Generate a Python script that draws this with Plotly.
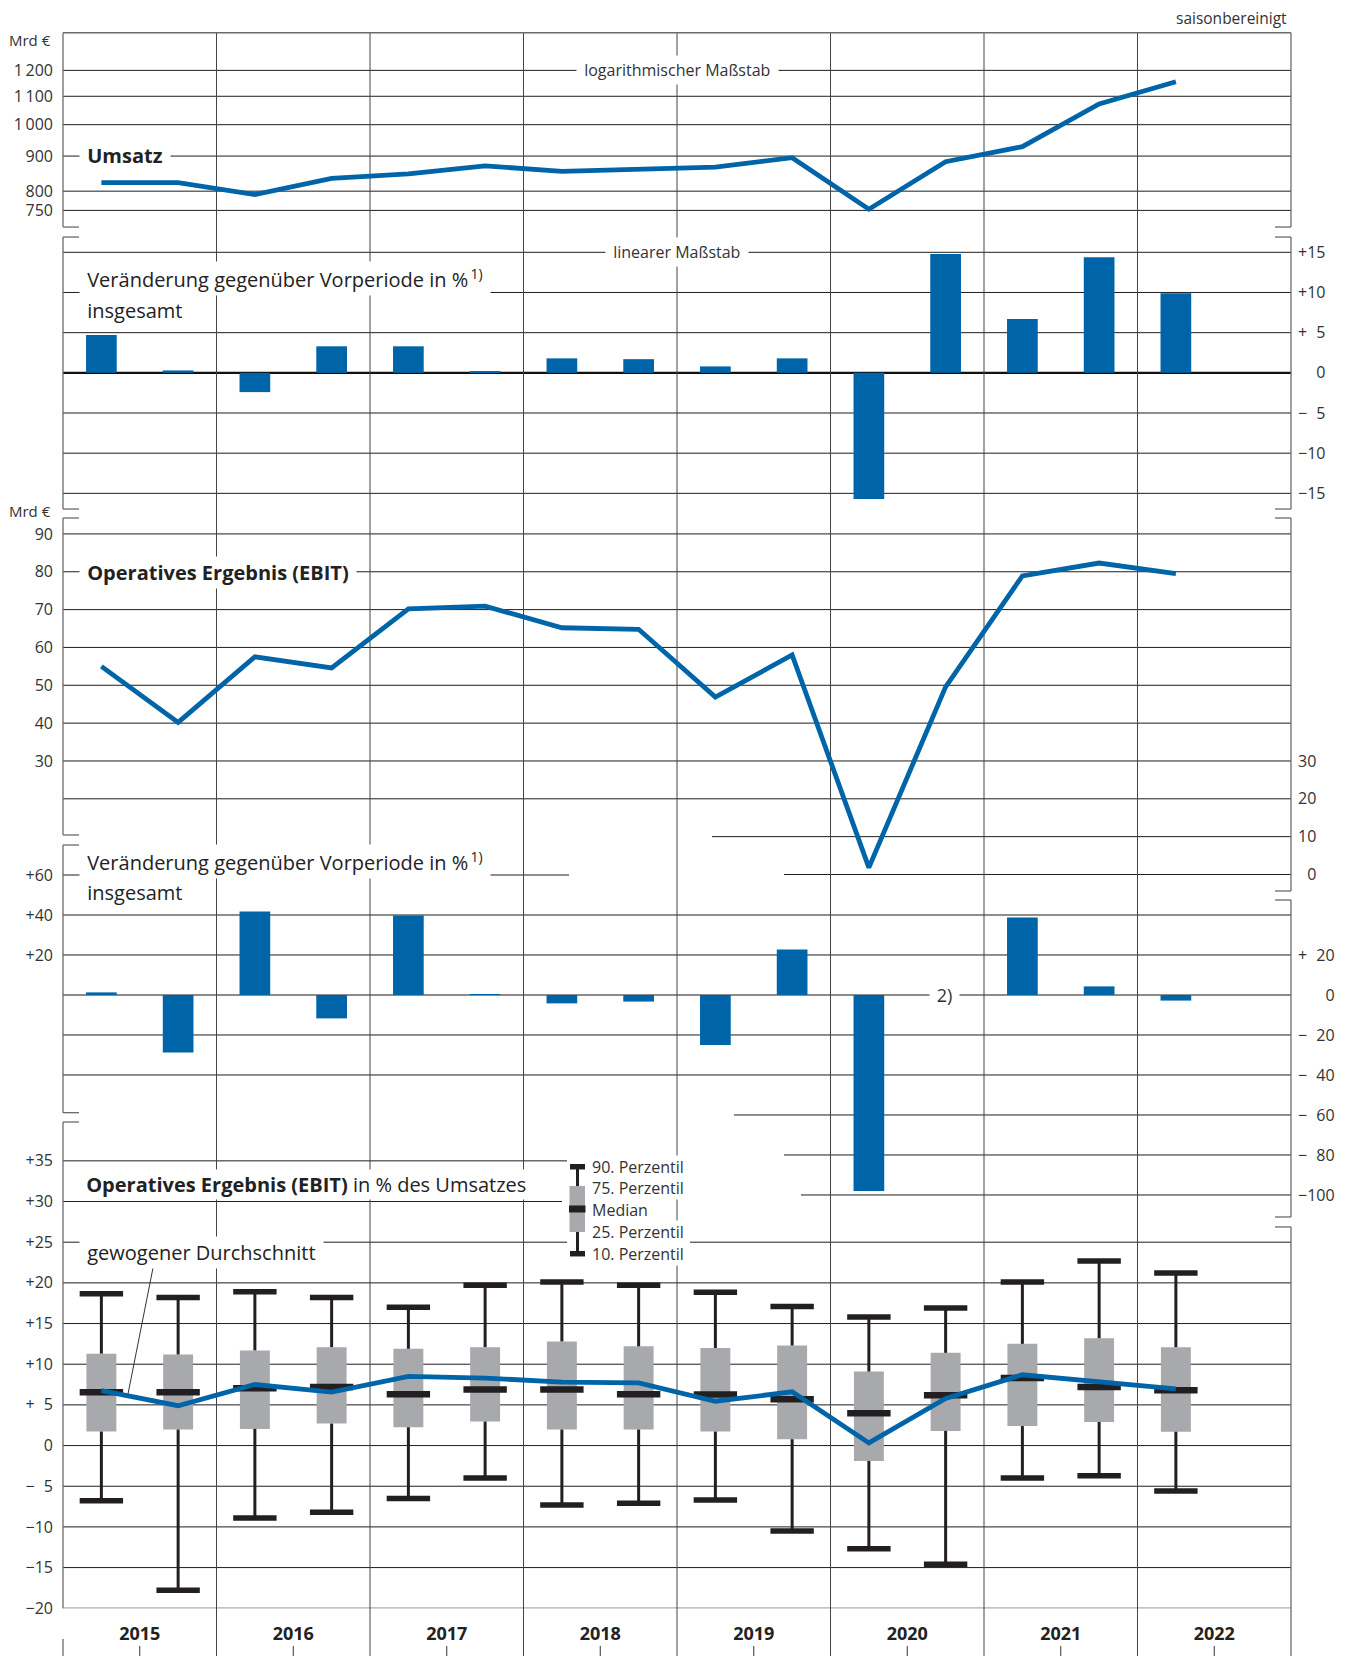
import plotly.graph_objects as go

# page body has an 8 px margin: all layout positions below are screen pixels
OFF = 8
KY = 1.0066          # vertical calibration of the screenshot
W, H = 1354 - 2 * OFF, 1660

# ---------------- data ----------------
periods = ["2015 H1", "2015 H2", "2016 H1", "2016 H2", "2017 H1", "2017 H2",
           "2018 H1", "2018 H2", "2019 H1", "2019 H2", "2020 H1", "2020 H2",
           "2021 H1", "2021 H2", "2022 H1"]
years = [2015, 2016, 2017, 2018, 2019, 2020, 2021, 2022]

umsatz_mrd = [823, 823, 791, 835, 848, 871, 855, 861, 867, 895, 753, 883, 929, 1072, 1155]
umsatz_chg = [4.7, 0.3, -2.4, 3.3, 3.3, 0.1, 1.8, 1.7, 0.8, 1.8, -15.7, 14.8, 6.7, 14.4, 9.9]
ebit_mrd = [55.0, 40.2, 57.5, 54.6, 70.2, 70.9, 65.2, 64.8, 46.9, 58.0, 1.8, 49.6, 78.9, 82.3, 79.5]
ebit_chg = [1.3, -28.7, 41.7, -11.7, 39.7, 0.2, -4.2, -3.3, -25.0, 22.8, -98.0, None, 38.7, 4.3, -2.8]

marge_p90 = [18.65, 18.2, 18.9, 18.2, 17.0, 19.7, 20.1, 19.7, 18.85, 17.1, 15.8, 16.9, 20.1, 22.7, 21.2]
marge_p75 = [11.3, 11.2, 11.7, 12.1, 11.9, 12.1, 12.8, 12.2, 12.0, 12.3, 9.1, 11.4, 12.5, 13.2, 12.1]
marge_med = [6.56, 6.56, 7.05, 7.2, 6.3, 6.9, 6.9, 6.3, 6.27, 5.7, 3.98, 6.19, 8.3, 7.2, 6.8]
marge_p25 = [1.72, 1.97, 2.05, 2.7, 2.25, 2.95, 1.97, 1.97, 1.72, 0.78, -1.9, 1.8, 2.4, 2.9, 1.7]
marge_p10 = [-6.8, -17.8, -8.9, -8.2, -6.5, -4.0, -7.3, -7.1, -6.7, -10.5, -12.7, -14.6, -4.0, -3.7, -5.6]
marge_avg = [6.76, 4.9, 7.5, 6.56, 8.5, 8.3, 7.8, 7.7, 5.45, 6.6, 0.33, 5.8, 8.7, 7.9, 6.97]

p1_ticks = [750, 800, 900, 1000, 1100, 1200]
p1_text = ["750", "800", "900", "1\u2009000", "1\u2009100", "1\u2009200"]
p2_ticks = [15, 10, 5, 0, -5, -10, -15]
p2_text = ["+15", "+10", "+\u20075", "\u2007\u20070", "\u2212\u20075", "\u221210", "\u221215"]
p3_ticks_l = [90, 80, 70, 60, 50, 40, 30]
p3_ticks_r = [30, 20, 10, 0]
p3_text_r = ["30", "20", "10", "\u20070"]
p4_ticks_l = [60, 40, 20]
p4_text_l = ["+60", "+40", "+20"]
p4_ticks_r = [20, 0, -20, -40, -60, -80, -100]
p4_text_r = ["+\u200720", "\u2007\u2007\u20070", "\u2212\u200720", "\u2212\u200740",
             "\u2212\u200760", "\u2212\u200780", "\u2212100"]
p5_ticks = [35, 30, 25, 20, 15, 10, 5, 0, -5, -10, -15, -20]
p5_text = ["+35", "+30", "+25", "+20", "+15", "+10", "+\u20075", "0",
           "\u2212\u20075", "\u221210", "\u221215", "\u221220"]

x = [int(p[:4]) + (0.25 if p.endswith("H1") else 0.75) for p in periods]
box_height = [a - b for a, b in zip(marge_p75, marge_p25)]
stem_up = [a - b for a, b in zip(marge_p90, marge_p75)]
stem_dn = [a - b for a, b in zip(marge_p25, marge_p10)]
zeros = [0] * len(x)

# ---------------- styles ----------------
BLUE = "#0064a8"
GREY = "#a7a9ac"
DARK = "#231f20"
GRID = "#1e1e1e"
FRAME = "#6b6b6b"
TXT = "#333333"
FONT = "Open Sans"

X0, X1 = 63, 1291
BOTTOM = 1660


def px(v):
    return (v - OFF) / W


def py(v):
    return 1 - (v * KY - OFF) / H


shapes = []
annos = []


def hline(axis, val, x0=X0, x1=X1, color=GRID, width=1):
    shapes.append(dict(type="line", xref="paper", yref=axis, x0=px(x0), x1=px(x1),
                       y0=val, y1=val, layer="below", line=dict(color=color, width=width)))


def pline(x0, y0, x1, y1, color=FRAME, width=1.3):
    shapes.append(dict(type="line", xref="paper", yref="paper", x0=px(x0), x1=px(x1),
                       y0=py(y0), y1=py(y1), layer="below", line=dict(color=color, width=width)))


def prect(x0, y0, x1, y1, color):
    shapes.append(dict(type="rect", xref="paper", yref="paper", x0=px(x0), x1=px(x1),
                       y0=py(y0), y1=py(y1), layer="above", fillcolor=color, line=dict(width=0)))


def label(text, xp, yp, size=20, xanchor="left", yanchor="middle", bg=True, pad=2, color="#222222"):
    annos.append(dict(text=text, x=px(xp), y=py(yp), xref="paper", yref="paper",
                      xanchor=xanchor, yanchor=yanchor, showarrow=False,
                      font=dict(family=FONT, size=size, color=color),
                      bgcolor="white" if bg else None, borderpad=pad))


# ---------------- traces ----------------
fig = go.Figure()

fig.add_trace(go.Scatter(x=x, y=umsatz_mrd, mode="lines", yaxis="y",
                         line=dict(color=BLUE, width=4.8)))
fig.add_trace(go.Bar(x=x, y=umsatz_chg, width=0.2, yaxis="y2",
                     marker=dict(color=BLUE, line=dict(width=0))))
fig.add_trace(go.Scatter(x=x, y=ebit_mrd, mode="lines", yaxis="y3",
                         line=dict(color=BLUE, width=4.8)))
fig.add_trace(go.Scatter(x=[2015.5], y=[-1000], yaxis="y6", mode="markers",
                         marker=dict(size=1, color="rgba(0,0,0,0)")))
fig.add_trace(go.Bar(x=x, y=ebit_chg, width=0.2, yaxis="y4",
                     marker=dict(color=BLUE, line=dict(width=0))))
fig.add_trace(go.Scatter(x=[2015.5], y=[-1000], yaxis="y7", mode="markers",
                         marker=dict(size=1, color="rgba(0,0,0,0)")))

# box plot built from percentiles
fig.add_trace(go.Bar(x=x, y=box_height, base=marge_p25, width=0.195, yaxis="y5",
                     marker=dict(color=GREY, line=dict(width=0))))
fig.add_trace(go.Scatter(x=x, y=marge_p75, mode="markers", yaxis="y5",
                         marker=dict(size=1, color="rgba(0,0,0,0)"),
                         error_y=dict(type="data", symmetric=False, array=stem_up,
                                      arrayminus=zeros, thickness=3, width=0, color=DARK)))
fig.add_trace(go.Scatter(x=x, y=marge_p25, mode="markers", yaxis="y5",
                         marker=dict(size=1, color="rgba(0,0,0,0)"),
                         error_y=dict(type="data", symmetric=False, array=zeros,
                                      arrayminus=stem_dn, thickness=3, width=0, color=DARK)))
for vals, lw in ((marge_p90, 5.5), (marge_p10, 5.5), (marge_med, 6.5)):
    fig.add_trace(go.Scatter(x=x, y=vals, mode="markers", yaxis="y5",
                             marker=dict(symbol="line-ew", size=31,
                                         line=dict(color=DARK, width=lw))))
fig.add_trace(go.Scatter(x=x, y=marge_avg, mode="lines", yaxis="y5",
                         line=dict(color=BLUE, width=4.8)))

# ---------------- gridlines ----------------
for v in p1_ticks:
    hline("y", v)
for v in p2_ticks:
    if v == 0:
        hline("y2", v, width=2.2, color="#111111")
    else:
        hline("y2", v)
for v in [90, 80, 70, 60, 50, 40, 30, 20]:
    hline("y3", v)
hline("y3", 10, x0=712)
hline("y3", 0, x0=784)
hline("y4", 60, x1=569)
for v in [40, 20, -20, -40]:
    hline("y4", v)
hline("y4", 0, width=2.2, color="#8c8c8c")
hline("y4", -60, x0=734)
hline("y4", -80, x0=784)
hline("y4", -100, x0=801)
hline("y5", 35, x1=567)
hline("y5", 30, x1=562)
hline("y5", 25, x1=567)
hline("y5", 25, x0=690)
for v in [20, 15, 10, 5, 0, -5, -10, -15, -20]:
    hline("y5", v)

# year dividers and bottom ticks
for yv in years[1:]:
    shapes.append(dict(type="line", xref="x", yref="paper", x0=yv, x1=yv,
                       y0=py(BOTTOM), y1=py(32.7), layer="below",
                       line=dict(color="#444444", width=1)))
for yv in years:
    shapes.append(dict(type="line", xref="x", yref="paper", x0=yv + 0.5, x1=yv + 0.5,
                       y0=py(BOTTOM), y1=py(1646), layer="below",
                       line=dict(color="#333333", width=1)))

# frames with break brackets
pline(X0, 32.7, X1, 32.7)
STUB = 16
for top, bot in [(32.7, 227), (237, 509), (518, 835), (845, 1112.7), (1122, 1608.3)]:
    pline(X0, top, X0, bot)
    if top > 40:
        pline(X0, top, X0 + STUB, top)
    if bot < 1600:
        pline(X0, bot, X0 + STUB, bot)
pline(X0, 1639, X0, BOTTOM)
for top, bot in [(32.7, 227), (237, 509), (518, 891), (900, 1217), (1227, BOTTOM)]:
    pline(X1, top, X1, bot)
    if top > 40:
        pline(X1, top, X1 - STUB, top)
    if bot < 1640:
        pline(X1, bot, X1 - STUB, bot)

# legend glyph for the box plot
prect(570, 1164, 585, 1169.5, DARK)
pline(577.5, 1169, 577.5, 1188, color=DARK, width=3)
prect(569.5, 1186, 585, 1232, GREY)
prect(569, 1205.5, 585.5, 1212.5, DARK)
pline(577.5, 1232, 577.5, 1252, color=DARK, width=3)
prect(570, 1251, 585, 1256.5, DARK)

# leader line "gewogener Durchschnitt"
pline(153, 1268, 128, 1394, color="#333333", width=1)

# ---------------- texts ----------------
label("saisonbereinigt", 1288, OFF - 2, size=15.5, xanchor="right", yanchor="top", bg=False, pad=0, color=TXT)
label("Mrd \u20ac", 52, 40, size=15, xanchor="right", bg=False, pad=0, color=TXT)
label("Mrd \u20ac", 52, 510.7, size=15, xanchor="right", bg=False, pad=0, color=TXT)
label("\u00a0logarithmischer Maßstab\u00a0", 677, 70.3, size=16, xanchor="center", pad=3, color=TXT)
label("\u00a0linearer Maßstab\u00a0", 677, 252.3, size=16, xanchor="center", pad=3, color=TXT)
label("\u00a0<b>Umsatz</b>\u00a0", 78.5, 155.7, size=20)
label("\u00a0Veränderung gegenüber Vorperiode in %<sup>\u20091)</sup>\u00a0", 78.5, 278, size=20)
label("\u00a0insgesamt\u00a0", 78.5, 310, size=20)
label("\u00a0<b>Operatives Ergebnis (EBIT)</b>\u00a0", 78.5, 572, size=20)
label("\u00a0Veränderung gegenüber Vorperiode in %<sup>\u20091)</sup>\u00a0", 78.5, 861.7, size=20)
label("\u00a0insgesamt\u00a0", 78.5, 893, size=20)
label("\u00a02)\u00a0", 944, 995, size=18, xanchor="center", pad=2, color=TXT)
label("\u00a0<b>Operatives Ergebnis (EBIT)</b> in % des Umsatzes\u00a0", 78.5, 1185, size=20, pad=1)
label("\u00a0gewogener Durchschnitt\u00a0", 78.5, 1252.7, size=20)
for txt, yy in [("90. Perzentil", 1167), ("75. Perzentil", 1188), ("Median", 1210),
                ("25. Perzentil", 1232), ("10. Perzentil", 1254)]:
    label(txt, 591, yy, size=16, pad=0, color=TXT)

# ---------------- layout ----------------
tickfont = dict(family=FONT, size=16, color=TXT)


def yax(dom_top, dom_bot, rng, **kw):
    d = dict(domain=[py(dom_bot), py(dom_top)], range=rng, anchor="x",
             showgrid=False, zeroline=False, showline=False, ticks="",
             tickfont=tickfont, fixedrange=True)
    d.update(kw)
    return d


fig.update_layout(
    width=W, height=H, autosize=False,
    margin=dict(l=0, r=0, t=0, b=0, pad=0),
    paper_bgcolor="white", plot_bgcolor="rgba(0,0,0,0)",
    showlegend=False, hovermode=False, barmode="overlay",
    font=dict(family=FONT, color=TXT),
    xaxis=dict(domain=[px(X0), px(X1)], range=[2015, 2023], anchor="y5",
               showgrid=False, zeroline=False, showline=False, ticks="",
               tickvals=[yv + 0.5 for yv in years],
               ticktext=["<b>%d</b>" % yv for yv in years],
               tickfont=dict(family=FONT, size=18, color="#222222"),
               ticklabelstandoff=13, fixedrange=True),
    yaxis=yax(32.7, 227, [2.8508, 3.134], type="log", side="left",
              tickvals=p1_ticks, ticktext=p1_text, ticklabelstandoff=9),
    yaxis2=yax(237, 509, [-16.95, 16.9], side="right",
               tickvals=p2_ticks, ticktext=p2_text, ticklabelstandoff=6),
    yaxis3=yax(518, 891, [-4.36, 94.2], side="left",
               tickvals=p3_ticks_l, ticktext=[str(v) for v in p3_ticks_l], ticklabelstandoff=9),
    yaxis6=dict(overlaying="y3", side="right", anchor="x", range=[-4.36, 94.2],
                showgrid=False, zeroline=False, showline=False, ticks="",
                tickvals=p3_ticks_r, ticktext=p3_text_r, tickfont=tickfont,
                ticklabelstandoff=6, fixedrange=True),
    yaxis4=yax(845, 1226, [-115.5, 75], side="left",
               tickvals=p4_ticks_l, ticktext=p4_text_l, ticklabelstandoff=9),
    yaxis7=dict(overlaying="y4", side="right", anchor="x", range=[-115.5, 75],
                showgrid=False, zeroline=False, showline=False, ticks="",
                tickvals=p4_ticks_r, ticktext=p4_text_r, tickfont=tickfont,
                ticklabelstandoff=6, fixedrange=True),
    yaxis5=yax(1122, 1608.3, [-20, 39.78], side="left",
               tickvals=p5_ticks, ticktext=p5_text, ticklabelstandoff=9),
    shapes=shapes,
    annotations=annos,
)

fig.write_html("out.html")
